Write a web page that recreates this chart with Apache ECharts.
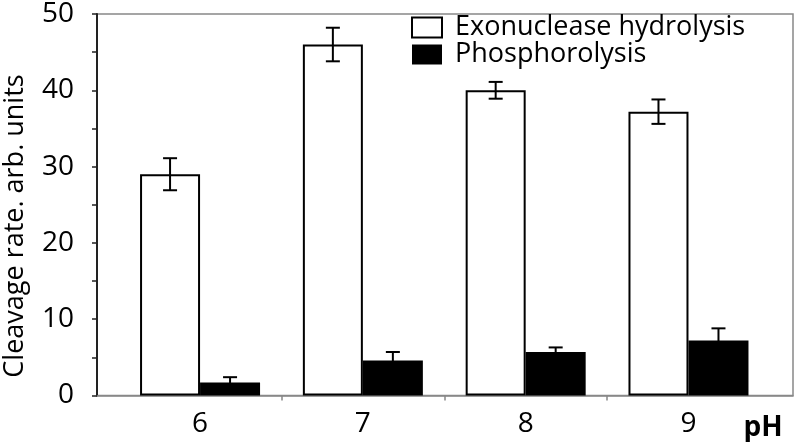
<!DOCTYPE html>
<html><head><meta charset="utf-8">
<script src="https://cdn.jsdelivr.net/npm/echarts@6/dist/echarts.min.js"></script>
<style>html,body{margin:0;padding:0;background:#fff}#c{width:796px;height:442px}</style>
</head><body><div id="c"></div>
<script>
// ---- data ----
const phValues = [6, 7, 8, 9];
const exoValues = [29.0, 46.0, 40.0, 37.2];
const exoErrors = [2.1, 2.2, 1.1, 1.6];
const phosValues = [1.7, 4.6, 5.7, 7.2];
const phosErrors = [0.7, 1.1, 0.6, 1.6];
const xTickValues = [6.5, 7.5, 8.5];
const seriesNames = ['Exonuclease hydrolysis', 'Phosphorolysis'];
const yTitle = 'Cleavage rate. arb. units';
const xTitle = 'pH';

const FONT = 'Open Sans';
const BAR_W = 60;

function pairs(vals) { return phValues.map((x, i) => [x, vals[i]]); }
function errTriples(vals, errs) { return phValues.map((x, i) => [x, vals[i], errs[i]]); }

function errorRender(offset) {
  return function (params, api) {
    const x = api.value(0), v = api.value(1), e = api.value(2);
    const top = api.coord([x, v + e]);
    const bot = api.coord([x, v - e]);
    const cx = top[0] + offset;
    const cap = 7;
    const st = { stroke: '#000', lineWidth: 2 };
    return {
      type: 'group',
      children: [
        { type: 'line', shape: { x1: cx, y1: top[1], x2: cx, y2: bot[1] }, style: st },
        { type: 'line', shape: { x1: cx - cap, y1: top[1], x2: cx + cap, y2: top[1] }, style: st },
        { type: 'line', shape: { x1: cx - cap, y1: bot[1], x2: cx + cap, y2: bot[1] }, style: st }
      ]
    };
  };
}

const chart = echarts.init(document.getElementById('c'), null, { renderer: 'canvas' });
chart.setOption({
  animation: false,
  backgroundColor: '#fff',
  textStyle: { fontFamily: FONT },
  grid: { left: 97, right: 3, top: 5.5, bottom: 46.5, show: true, borderColor: '#888', borderWidth: 1.5, backgroundColor: 'transparent' },
  legend: {
    orient: 'vertical', left: 411, top: 14, padding: 0,
    itemWidth: 30, itemHeight: 20, itemGap: 0,
    textStyle: { fontFamily: FONT, fontSize: 27, lineHeight: 27, color: '#000', padding: [0, 0, 0, 8] },
    data: [
      { name: seriesNames[0], icon: 'rect', itemStyle: { color: '#fff', borderColor: '#000', borderWidth: 2 } },
      { name: seriesNames[1], icon: 'rect', itemStyle: { color: '#000', borderWidth: 0 } }
    ]
  },
  xAxis: {
    type: 'value', min: 5.367, max: 9.642,
    axisLine: { show: true, lineStyle: { color: '#888', width: 1.5 } },
    axisTick: { show: true, customValues: xTickValues, length: 5, inside: false, lineStyle: { color: '#888', width: 1.5 } },
    axisLabel: { customValues: phValues, fontSize: 28, color: '#000', fontFamily: FONT, margin: 15 },
    splitLine: { show: false }
  },
  yAxis: {
    type: 'value', min: 0, max: 50, interval: 10,
    axisLine: { show: true, lineStyle: { color: '#222', width: 2 } },
    axisTick: { show: true, length: 5, lineStyle: { color: '#222', width: 1.5 } },
    minorTick: { show: true, splitNumber: 2, length: 5, lineStyle: { color: '#222', width: 1.5 } },
    axisLabel: { fontSize: 28, color: '#000', fontFamily: FONT, margin: 23 },
    splitLine: { show: false }
  },
  graphic: [
    { type: 'text', x: 15, y: 226, rotation: Math.PI / 2, style: { text: yTitle, font: '27px "' + FONT + '"', fill: '#000', align: 'center', verticalAlign: 'middle' } },
    { type: 'text', x: 763, y: 428, style: { text: xTitle, font: 'bold 28px "' + FONT + '"', fill: '#000', align: 'center', verticalAlign: 'middle' } }
  ],
  series: [
    { name: seriesNames[0], type: 'bar', data: pairs(exoValues), barWidth: BAR_W, barGap: '0%',
      itemStyle: { color: '#fff', borderColor: '#000', borderWidth: 2 } },
    { name: seriesNames[1], type: 'bar', data: pairs(phosValues), barWidth: BAR_W, barGap: '0%',
      itemStyle: { color: '#000', borderColor: '#000', borderWidth: 0 } },
    { type: 'custom', data: errTriples(exoValues, exoErrors), renderItem: errorRender(-BAR_W / 2), z: 5 },
    { type: 'custom', data: errTriples(phosValues, phosErrors), renderItem: errorRender(BAR_W / 2), z: 5 }
  ]
});
</script></body></html>
